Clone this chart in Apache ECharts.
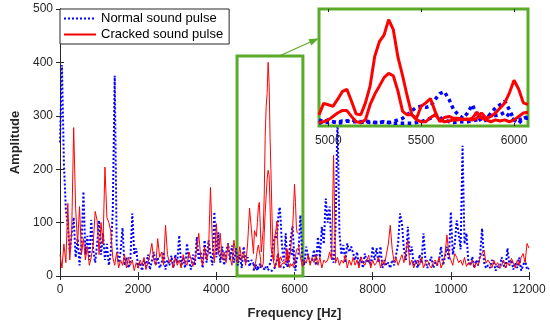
<!DOCTYPE html>
<html><head><meta charset="utf-8">
<script src="https://cdn.jsdelivr.net/npm/echarts@6/dist/echarts.min.js"></script>
<style>html,body{margin:0;padding:0;background:#fff}#c{width:550px;height:327px}</style>
</head><body><div id="c"></div>
<script>
// ---- data ----
const freqStep = 50; // Hz between FFT bins of the full-range series (0 .. 12000 Hz)
const normalPulse = [
  250, 395, 210, 125, 95, 45, 80, 110, 35, 70,
  20, 60, 158, 40, 75, 30, 105, 50, 25, 60,
  104, 40, 80, 30, 60, 20, 45, 120, 375, 60,
  25, 45, 90, 20, 35, 15, 30, 117, 40, 52,
  15, 25, 10, 30, 18, 40, 12, 28, 45, 20,
  35, 15, 25, 45, 12, 30, 20, 38, 15, 40,
  25, 76, 18, 35, 15, 61, 28, 12, 40, 20,
  73, 30, 45, 15, 67, 25, 67, 40, 20, 120,
  35, 82, 25, 55, 20, 45, 61, 30, 57, 25,
  52, 20, 40, 15, 55, 25, 35, 18, 30, 23,
  null, null, null, null, null, null, null, null, null, null,
  null, null, null, null, null, null, null, null, null, null,
  null, null, 40, 114, 30, 20, 55, 36, 25, 30,
  49, 20, 73, 35, 92, 60, 145, 100, 130, 40,
  25, 90, 300, 80, 40, 58, 25, 61, 45, 55,
  58, 30, 45, 20, 35, 15, 42, 25, 30, 20,
  55, 30, 52, 25, 55, 15, 30, 20, 25, 15,
  30, 20, 40, 60, 117, 98, 50, 30, 92, 40,
  55, 20, 30, 15, 40, 25, 80, 30, 15, 25,
  36, 15, 25, 20, 30, 55, 20, 35, 55, 30,
  120, 40, 60, 104, 80, 50, 244, 60, 80, 25,
  20, 36, 15, 30, 20, 40, 89, 25, 15, 20,
  15, 30, 24, 10, 20, 15, 35, 20, 15, 52,
  20, 30, 12, 25, 15, 35, 10, 20, 30, 12,
  15
];
const crackedPulse = [
  40, 15, 60, 25, 136, 30, 85, 278, 127, 60,
  130, 40, 70, 30, 55, 20, 35, 60, 121, 104,
  40, 100, 60, 204, 110, 100, 83, 35, 20, 45,
  15, 30, 20, 40, 15, 35, 20, 30, 10, 25,
  15, 30, 20, 35, 12, 25, 40, 61, 30, 20,
  70, 35, 45, 20, 95, 40, 25, 30, 15, 35,
  20, 30, 15, 40, 25, 20, 45, 42, 18, 30,
  50, 80, 35, 20, 55, 30, 45, 166, 60, 25,
  98, 40, 80, 30, 45, 25, 60, 35, 20, 67,
  40, 25, 55, 30, 45, 20, 60, 127, 127, 42,
  null, null, null, null, null, null, null, null, null, null,
  null, null, null, null, null, null, null, null, null, null,
  null, null, 60, 36, 18, 30, 24, 40, 20, 35,
  25, 40, 20, 35, 15, 30, 25, 30, 45, 30,
  226, 24, 35, 20, 30, 24, 40, 15, 30, 20,
  35, 20, 30, 15, 36, 25, 20, 30, 39, 15,
  30, 20, 25, 36, 15, 30, 20, 40, 60, 95,
  50, 25, 35, 20, 30, 40, 25, 45, 67, 20,
  30, 15, 25, 30, 20, 35, 15, 25, 30, 20,
  15, 25, 30, 20, 35, 15, 25, 40, 77, 40,
  30, 20, 42, 35, 25, 30, 20, 35, 18, 25,
  20, 30, 15, 25, 20, 35, 42, 48, 24, 30,
  24, 15, 30, 20, 25, 15, 20, 30, 15, 25,
  20, 33, 25, 15, 30, 20, 35, 42, 25, 61,
  52
];
// zoomed band (finer bins)
const zoomFreq = [
  4950, 4975, 5000, 5025, 5050, 5075, 5100, 5125, 5150, 5175,
  5200, 5225, 5250, 5275, 5300, 5325, 5350, 5375, 5400, 5425,
  5450, 5475, 5500, 5525, 5550, 5575, 5600, 5625, 5650, 5675,
  5700, 5725, 5750, 5775, 5800, 5825, 5850, 5875, 5900, 5925,
  5950, 5975, 6000, 6025, 6050, 6075
];
const crackedZoomA = [
  42, 85, 80, 74, 100, 129, 138, 93, 45, 42,
  87, 150, 262, 317, 342, 400, 362, 259, 189, 112,
  42, 29, 74, 87, 103, 55, 16, 32, 36, 29,
  29, 25, 26, 22, 29, 49, 29, 36, 49, 68,
  87, 125, 172, 138, 87, 80
];
const crackedZoomB = [
  13, 16, 23, 36, 49, 58, 58, 36, 16, 13,
  23, 80, 119, 150, 182, 198, 189, 131, 55, 42,
  42, 23, 16, 16, 32, 42, 23, 16, 19, 23,
  23, 25, 23, 29, 52, 29, 23, 16, 23, 19,
  23, 16, 23, 36, 49, 52
];
const normalZoomA = [
  23, 16, 13, 16, 13, 19, 19, 16, 16, 13,
  16, 13, 13, 13, 16, 13, 16, 23, 29, 42,
  58, 70, 74, 70, 74, 100, 122, 129, 100, 61,
  42, 29, 49, 80, 42, 16, 23, 49, 68, 80,
  93, 61, 23, 10, 29, 36
];
const normalZoomB = [
  10, 16, 23, 16, 10, 13, 19, 23, 19, 16,
  19, 16, 13, 13, 16, 13, 10, 10, 10, 10,
  10, 13, 16, 23, 29, 42, 32, 23, 16, 13,
  16, 16, 16, 19, 23, 29, 36, 36, 39, 42,
  52, 36, 23, 23, 29, 29
];
const insetTicks = [5000, 5500, 6000];
const seriesNames = ['Normal sound pulse', 'Cracked sound pulse'];

// ---- chart ----
const FONT = 'Liberation Sans, Arial, sans-serif';
const AX = '#262626';
const GREEN = '#5aab2a';
const BLUE = '#0000ff';
const RED = '#ff0000';
const zoomBox = { f0: 4530, f1: 6215, top: 412 };
const arrowFrom = [5610, 412];   // main-axes coordinates
const arrowTo = [4950, 330];     // inset-axes coordinates
const plain = v => String(v);

const mainFreq = normalPulse.map((_, i) => i * freqStep);
const pairs = (xs, ys) => ys.map((v, i) => [xs[i], v]);

const chart = echarts.init(document.getElementById('c'), null, { renderer: 'canvas' });

function lineSeries(name, data, color, width, dotted, grid, z) {
  return {
    type: 'line', name, data, showSymbol: false, symbol: 'none',
    xAxisIndex: grid === 0 ? 0 : 2, yAxisIndex: grid === 0 ? 0 : 2,
    lineStyle: { color, width, type: dotted ? 'dotted' : 'solid' },
    itemStyle: { color },
    animation: false, z, connectNulls: false, clip: true
  };
}

const mainNormal = lineSeries(seriesNames[0], pairs(mainFreq, normalPulse), BLUE, 2, true, 0, 2);
mainNormal.markArea = {
  silent: true,
  itemStyle: { color: 'rgba(0,0,0,0)', borderColor: GREEN, borderWidth: 3 },
  data: [[{ xAxis: zoomBox.f0, yAxis: 0 }, { xAxis: zoomBox.f1, yAxis: zoomBox.top }]]
};

const option = {
  animation: false,
  textStyle: { fontFamily: FONT },
  grid: [
    { left: 60, right: 21, top: 9, bottom: 51, containLabel: false },
    { left: 319, right: 22, top: 9, bottom: 201, show: true, backgroundColor: '#ffffff',
      borderColor: GREEN, borderWidth: 3, z: 10 }
  ],
  legend: {
    data: seriesNames, left: 60, top: 9, orient: 'vertical',
    itemWidth: 32, itemHeight: 14, itemGap: 3, padding: [3, 6, 3, 3],
    itemStyle: { opacity: 0 },
    backgroundColor: '#fff', borderColor: AX, borderWidth: 1, borderRadius: 0,
    textStyle: { fontSize: 13, color: '#000', fontFamily: FONT }, z: 20
  },
  xAxis: [
    { type: 'value', gridIndex: 0, position: 'bottom', min: 0, max: 12000, interval: 2000,
      axisLine: { lineStyle: { color: AX, width: 1 } },
      axisTick: { inside: true, length: 4, lineStyle: { color: AX } },
      axisLabel: { fontSize: 12, color: AX, margin: 8, fontFamily: FONT, formatter: plain },
      splitLine: { show: false },
      name: 'Frequency [Hz]', nameLocation: 'middle', nameGap: 31,
      nameTextStyle: { fontSize: 13, fontWeight: 'bold', color: AX, fontFamily: FONT } },
    { type: 'value', gridIndex: 0, position: 'top', min: 0, max: 12000, interval: 2000,
      axisLine: { lineStyle: { color: AX, width: 1 } },
      axisTick: { inside: true, length: 4, lineStyle: { color: AX } },
      axisLabel: { show: false }, splitLine: { show: false } },
    { type: 'value', gridIndex: 1, position: 'bottom', min: 4950, max: 6075, z: 12,
      axisLine: { show: false },
      axisTick: { inside: true, length: 3, customValues: insetTicks, lineStyle: { color: AX } },
      axisLabel: { fontSize: 12, color: AX, margin: 9, customValues: insetTicks, fontFamily: FONT, formatter: plain },
      splitLine: { show: false } },
    { type: 'value', gridIndex: 1, position: 'top', min: 4950, max: 6075, z: 12,
      axisLine: { show: false },
      axisTick: { inside: true, length: 3, customValues: insetTicks, lineStyle: { color: AX } },
      axisLabel: { show: false }, splitLine: { show: false } }
  ],
  yAxis: [
    { type: 'value', gridIndex: 0, position: 'left', min: 0, max: 500, interval: 100,
      axisLine: { show: true, lineStyle: { color: AX, width: 1 } },
      axisTick: { show: true, inside: true, length: 4, lineStyle: { color: AX } },
      axisLabel: { fontSize: 12, color: AX, margin: 7, fontFamily: FONT, formatter: plain },
      splitLine: { show: false },
      name: 'Amplitude', nameLocation: 'middle', nameGap: 38,
      nameTextStyle: { fontSize: 13, fontWeight: 'bold', color: AX, fontFamily: FONT } },
    { type: 'value', gridIndex: 0, position: 'right', min: 0, max: 500, interval: 100,
      axisLine: { show: true, lineStyle: { color: AX, width: 1 } },
      axisTick: { show: true, inside: true, length: 4, lineStyle: { color: AX } },
      axisLabel: { show: false }, splitLine: { show: false } },
    { type: 'value', gridIndex: 1, min: 0, max: 440, show: false, splitLine: { show: false } }
  ],
  series: [
    mainNormal,
    lineSeries(seriesNames[0], pairs(zoomFreq, normalZoomA), BLUE, 2, true, 0, 2),
    lineSeries(seriesNames[0], pairs(zoomFreq, normalZoomB), BLUE, 2, true, 0, 2),
    lineSeries(seriesNames[1], pairs(mainFreq, crackedPulse), RED, 1, false, 0, 3),
    lineSeries(seriesNames[1], pairs(zoomFreq, crackedZoomA), RED, 1, false, 0, 3),
    lineSeries(seriesNames[1], pairs(zoomFreq, crackedZoomB), RED, 1, false, 0, 3),
    lineSeries(seriesNames[0], pairs(zoomFreq, normalZoomA), BLUE, 3.5, true, 1, 11),
    lineSeries(seriesNames[0], pairs(zoomFreq, normalZoomB), BLUE, 3.5, true, 1, 11),
    lineSeries(seriesNames[1], pairs(zoomFreq, crackedZoomA), RED, 3, false, 1, 11),
    lineSeries(seriesNames[1], pairs(zoomFreq, crackedZoomB), RED, 3, false, 1, 11)
  ]
};
chart.setOption(option);

// arrow from the zoom box to the inset
const p0 = chart.convertToPixel({ gridIndex: 0 }, arrowFrom);
const p1 = chart.convertToPixel({ gridIndex: 1 }, arrowTo);
const dx = p1[0] - p0[0], dy = p1[1] - p0[1];
const L = Math.hypot(dx, dy), ux = dx / L, uy = dy / L;
const headLen = 10, headHalf = 3.5;
const bx = p1[0] - ux * headLen, by = p1[1] - uy * headLen;
chart.setOption({
  graphic: [
    { type: 'line', z: 30, shape: { x1: p0[0], y1: p0[1], x2: bx, y2: by },
      style: { stroke: GREEN, lineWidth: 1.2 } },
    { type: 'polygon', z: 30, shape: { points: [
        [p1[0], p1[1]],
        [bx - uy * headHalf, by + ux * headHalf],
        [bx + uy * headHalf, by - ux * headHalf]] },
      style: { fill: GREEN } }
  ]
});
</script></body></html>
